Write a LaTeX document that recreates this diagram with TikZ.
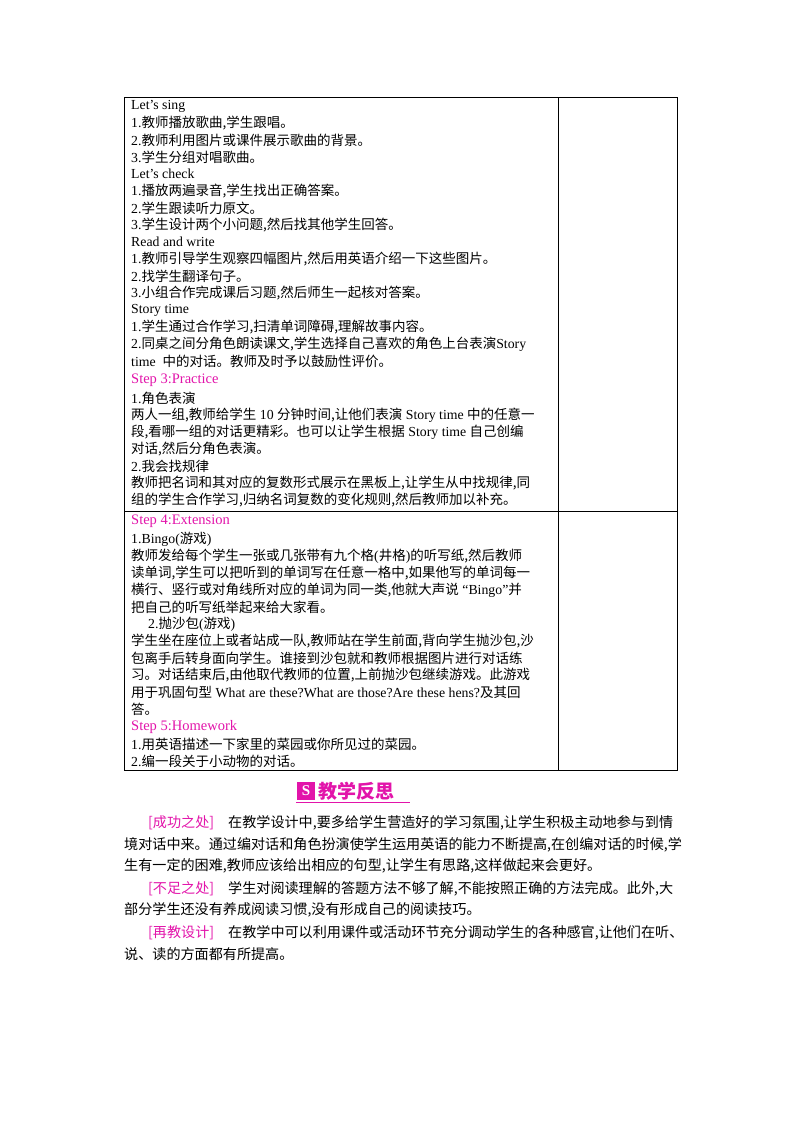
\documentclass[tikz,border=0pt]{standalone}
\usepackage{fontspec}
\setmainfont{Liberation Serif}
\newfontfamily\cjk{Noto Sans CJK SC}
\definecolor{pk}{RGB}{226,20,170}
\newcommand{\zh}[1]{{\cjk\fontsize{13.5}{15}\selectfont #1}}
\begin{document}
\begin{tikzpicture}[x=1pt,y=-1pt,
  ln/.style={anchor=west,inner sep=0pt,font=\fontsize{13.8}{15}\selectfont},
  st/.style={ln,text=pk},
  tb/.style={line width=0.8pt}]
\useasboundingbox (0,0) rectangle (800,1132);
\draw[tb] (124,97) rectangle (677,770);
\draw[tb] (558,97) -- (558,770);
\draw[tb] (124,511) -- (677,511);
\node[ln] (l1) at (131,106) {Let’s sing};
\node[ln] (l2) at (131,123) {1.\zh{教师播放歌曲,学生跟唱。}};
\node[ln] (l3) at (131,140) {2.\zh{教师利用图片或课件展示歌曲的背景。}};
\node[ln] (l4) at (131,157) {3.\zh{学生分组对唱歌曲。}};
\node[ln] (l5) at (131,174) {Let’s check};
\node[ln] (l6) at (131,191) {1.\zh{播放两遍录音,学生找出正确答案。}};
\node[ln] (l7) at (131,208) {2.\zh{学生跟读听力原文。}};
\node[ln] (l8) at (131,225) {3.\zh{学生设计两个小问题,然后找其他学生回答。}};
\node[ln] (l9) at (131,242) {Read and write};
\node[ln] (l10) at (131,259) {1.\zh{教师引导学生观察四幅图片,然后用英语介绍一下这些图片。}};
\node[ln] (l11) at (131,276) {2.\zh{找学生翻译句子。}};
\node[ln] (l12) at (131,293) {3.\zh{小组合作完成课后习题,然后师生一起核对答案。}};
\node[ln] (l13) at (131,310) {Story time};
\node[ln] (l14) at (131,327) {1.\zh{学生通过合作学习,扫清单词障碍,理解故事内容。}};
\node[ln] (l15) at (131,344) {2.\zh{同桌之间分角色朗读课文,学生选择自己喜欢的角色上台表演}Story};
\node[ln] (l16) at (131,361) {time\ \ \zh{中的对话。教师及时予以鼓励性评价。}};
\node[st] (s3) at (131,380) {\fontsize{14.5}{16}\selectfont Step 3:Practice};
\node[ln] (l17) at (131,398) {1.\zh{角色表演}};
\node[ln] (l18) at (131,415) {\zh{两人一组,教师给学生} 10 \zh{分钟时间,让他们表演} Story time \zh{中的任意一}};
\node[ln] (l19) at (131,432) {\zh{段,看哪一组的对话更精彩。也可以让学生根据} Story time \zh{自己创编}};
\node[ln] (l20) at (131,449) {\zh{对话,然后分角色表演。}};
\node[ln] (l21) at (131,466) {2.\zh{我会找规律}};
\node[ln] (l22) at (131,483) {\zh{教师把名词和其对应的复数形式展示在黑板上,让学生从中找规律,同}};
\node[ln] (l23) at (131,500) {\zh{组的学生合作学习,归纳名词复数的变化规则,然后教师加以补充。}};
\node[st] (s4) at (131,521) {\fontsize{14.5}{16}\selectfont Step 4:Extension};
\node[ln] (m1) at (131,539) {1.Bingo(\zh{游戏})};
\node[ln] (m2) at (131,556) {\zh{教师发给每个学生一张或几张带有九个格}(\zh{井格})\zh{的听写纸,然后教师}};
\node[ln] (m3) at (131,573) {\zh{读单词,学生可以把听到的单词写在任意一格中,如果他写的单词每一}};
\node[ln] (m4) at (131,590) {\zh{横行、竖行或对角线所对应的单词为同一类,他就大声说} “Bingo”\zh{并}};
\node[ln] (m5) at (131,607) {\zh{把自己的听写纸举起来给大家看。}};
\node[ln] (m6) at (148,624) {2.\zh{抛沙包}(\zh{游戏})};
\node[ln] (m7) at (131,641) {\zh{学生坐在座位上或者站成一队,教师站在学生前面,背向学生抛沙包,沙}};
\node[ln] (m8) at (131,658) {\zh{包离手后转身面向学生。谁接到沙包就和教师根据图片进行对话练}};
\node[ln] (m9) at (131,675) {\zh{习。对话结束后,由他取代教师的位置,上前抛沙包继续游戏。此游戏}};
\node[ln] (m10) at (131,692) {\zh{用于巩固句型} What are these?What are those?Are these hens?\zh{及其回}};
\node[ln] (m11) at (131,709) {\zh{答。}};
\node[st] (s5) at (131,727) {\fontsize{14.5}{16}\selectfont Step 5:Homework};
\node[ln] (m12) at (131,744) {1.\zh{用英语描述一下家里的菜园或你所见过的菜园。}};
\node[ln] (m13) at (131,761) {2.\zh{编一段关于小动物的对话。}};
% header
\draw[pk,line width=1pt] (296,802) -- (410,802);
\node[fill=pk,text=white,minimum size=18pt,inner sep=0pt,font=\bfseries\fontsize{15}{15}\selectfont] (ic) at (306,791) {S};
\node[anchor=west,inner sep=0pt,text=pk] (hd) at (318,791) {{\cjk\bfseries\fontsize{19}{20}\selectfont 教学反思}};
\tikzset{pp/.style={anchor=west,inner sep=0pt}}
\newcommand{\zb}[1]{{\cjk\fontsize{14.1}{15}\selectfont #1}}
\node[pp] (p1) at (148,823) {\zb{\textcolor{pk}{[成功之处]}\quad 在教学设计中,要多给学生营造好的学习氛围,让学生积极主动地参与到情}};
\node[pp] (p2) at (124,845) {\zb{境对话中来。通过编对话和角色扮演使学生运用英语的能力不断提高,在创编对话的时候,学}};
\node[pp] (p3) at (124,866) {\zb{生有一定的困难,教师应该给出相应的句型,让学生有思路,这样做起来会更好。}};
\node[pp] (p4) at (148,889) {\zb{\textcolor{pk}{[不足之处]}\quad 学生对阅读理解的答题方法不够了解,不能按照正确的方法完成。此外,大}};
\node[pp] (p5) at (124,910) {\zb{部分学生还没有养成阅读习惯,没有形成自己的阅读技巧。}};
\node[pp] (p6) at (148,933) {\zb{\textcolor{pk}{[再教设计]}\quad 在教学中可以利用课件或活动环节充分调动学生的各种感官,让他们在听、}};
\node[pp] (p7) at (124,954) {\zb{说、读的方面都有所提高。}};
\end{tikzpicture}
\end{document}
